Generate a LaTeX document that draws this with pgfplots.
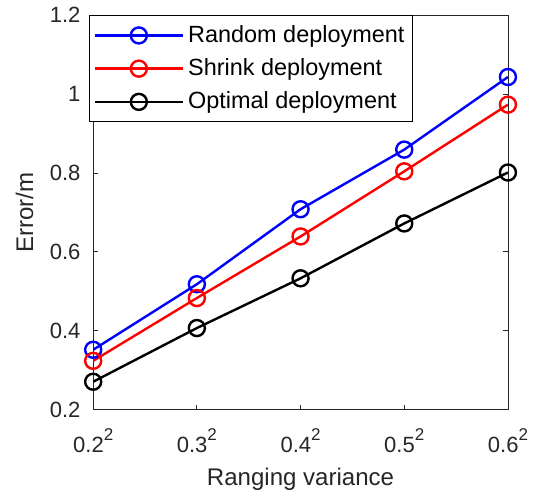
\documentclass[border=0pt]{standalone}
\usepackage{fontspec}
\setmainfont{Liberation Sans}
\usepackage{pgfplots}
\pgfplotsset{compat=1.18}
\definecolor{axgray}{rgb}{0.15,0.15,0.15}
\newcommand{\sq}{\raisebox{6pt}{\fontsize{8.5}{9}\selectfont 2}}
\begin{document}
\begin{tikzpicture}
\begin{axis}[
  name=ax,
  scale only axis, width=207pt, height=197pt,
  xmin=1, xmax=5, ymin=0.2, ymax=1.2,
  xtick={1,2,3,4,5},
  xticklabels={0.2\sq,0.3\sq,0.4\sq,0.5\sq,0.6\sq},
  ytick={0.2,0.4,0.6,0.8,1,1.2},
  yticklabels={0.2,0.4,0.6,0.8,1,1.2},
  tick align=inside, major tick length=2.5pt,
  axis line style={axgray, line width=0.4pt}, tick style={axgray, line width=0.4pt},
  xlabel={Ranging variance}, ylabel={Error/m},
  label style={font=\fontsize{12}{13}\selectfont, text=axgray},
  xlabel style={at={(axis description cs:0.5,-0.193)}, anchor=base},
  ylabel style={at={(axis description cs:-0.145,0.5)}, anchor=base},
  tick label style={font=\fontsize{11}{12}\selectfont, text=axgray},
  yticklabel style={xshift=-2.8pt},
  xticklabel style={yshift=-5.7pt},
  legend style={at={(0,1)}, anchor=north west, xshift=-2pt, draw=black, line width=0.4pt,
    font=\fontsize{11.7}{13}\selectfont, row sep=2.6pt, inner xsep=2pt, inner ysep=3pt},
  legend cell align=left,
  legend image code/.code={\draw[mark repeat=2,mark phase=2] plot coordinates {(0pt,0pt)(22pt,0pt)(44pt,0pt)};},
  every axis plot/.append style={line width=1.2pt, mark=o, mark size=4pt, mark options={solid}},
]
\addplot[blue] coordinates {(1,0.352)(2,0.518)(3,0.708)(4,0.859)(5,1.043)};
\addlegendentry{Random deployment}
\addplot[red] coordinates {(1,0.324)(2,0.483)(3,0.639)(4,0.804)(5,0.973)};
\addlegendentry{Shrink deployment}
\addplot[black] coordinates {(1,0.271)(2,0.407)(3,0.533)(4,0.672)(5,0.801)};
\addlegendentry{Optimal deployment}
\end{axis}
\path ([shift={(-46.5pt,-43.5pt)}]ax.south west) rectangle ([shift={(15.5pt,7.5pt)}]ax.north east);
\end{tikzpicture}
\end{document}
